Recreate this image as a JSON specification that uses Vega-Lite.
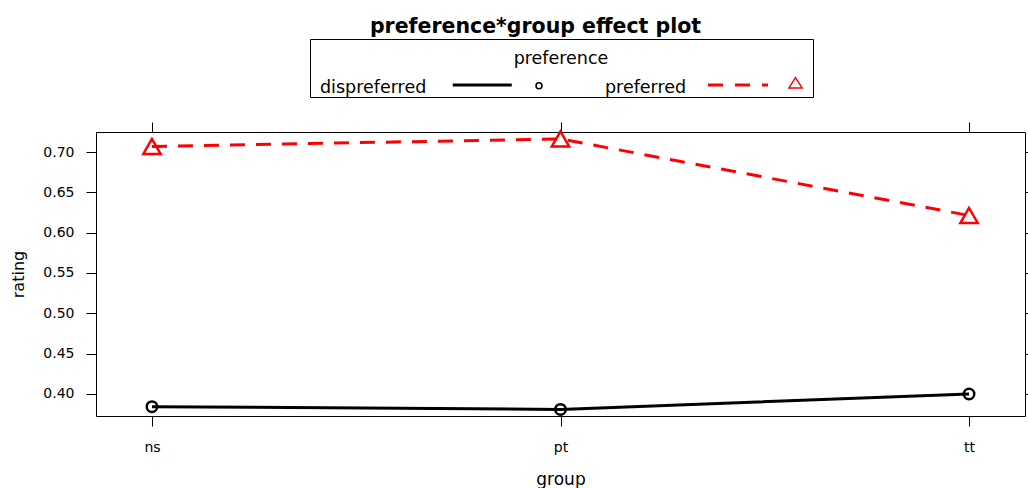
{
  "$schema": "https://vega.github.io/schema/vega-lite/v6.json",
  "width": 929,
  "height": 284,
  "autosize": {"type": "none"},
  "padding": {"left": 96, "top": 132, "right": 3, "bottom": 72},
  "background": "white",
  "title": {
    "text": "preference*group effect plot",
    "font": "DejaVu Sans",
    "fontSize": 20.5,
    "fontWeight": "bold",
    "color": "black",
    "anchor": "middle",
    "dx": -25,
    "baseline": "alphabetic",
    "offset": -15
  },
  "config": {
    "view": {"stroke": "black", "strokeWidth": 1},
    "axis": {
      "grid": false,
      "domain": false,
      "tickColor": "black",
      "tickWidth": 1,
      "tickSize": 10,
      "labelColor": "black",
      "titleColor": "black",
      "labelFont": "DejaVu Sans",
      "titleFont": "DejaVu Sans",
      "titleFontWeight": "normal"
    }
  },
  "data": {
    "values": [
      {"group": "ns", "preference": "dispreferred", "rating": 0.3843},
      {"group": "pt", "preference": "dispreferred", "rating": 0.3808},
      {"group": "tt", "preference": "dispreferred", "rating": 0.4000},
      {"group": "ns", "preference": "preferred", "rating": 0.7069},
      {"group": "pt", "preference": "preferred", "rating": 0.7162},
      {"group": "tt", "preference": "preferred", "rating": 0.6213}
    ]
  },
  "encoding": {
    "x": {
      "field": "group",
      "type": "nominal",
      "sort": ["ns", "pt", "tt"],
      "scale": {"type": "point", "padding": 0.137},
      "axis": null
    },
    "y": {
      "field": "rating",
      "type": "quantitative",
      "scale": {"domain": [0.3727, 0.7248], "nice": false, "zero": false},
      "axis": null
    },
    "color": {
      "field": "preference",
      "type": "nominal",
      "scale": {"domain": ["dispreferred", "preferred"], "range": ["black", "red"]},
      "legend": {
        "orient": "none",
        "legendX": 214,
        "legendY": -93,
        "direction": "horizontal",
        "title": ["", "preference"],
        "titleLineHeight": 11,
        "titleFont": "DejaVu Sans",
        "titleFontSize": 17.5,
        "titleFontWeight": "normal",
        "titleColor": "black",
        "titleAnchor": "middle",
        "titleAlign": "center",
        "titlePadding": 11,
        "labelFont": "DejaVu Sans",
        "labelFontSize": 17.5,
        "labelColor": "black",
        "labelOffset": -7.5,
        "labelLimit": 0,
        "symbolSize": 4,
        "symbolStrokeWidth": 1.5,
        "columnPadding": 50,
        "strokeColor": "black",
        "fillColor": "white",
        "padding": 0,
        "encode": {
          "symbols": {
            "update": {
              "shape": {"signal": "datum.value === 'dispreferred' ? 'M134.75,-3.35L192.25,-3.35L192.25,-1.85L134.75,-1.85Z M223.25,-2A3,3 0 1,1 217.25,-2A3,3 0 1,1 223.25,-2Z' : 'M105,-3.35L118.5,-3.35L118.5,-1.85L105,-1.85Z M132,-3.35L145.5,-3.35L145.5,-1.85L132,-1.85Z M159,-3.35L163.5,-3.35L163.5,-1.85L159,-1.85Z M191.75,-10L198.3,0.3L185.2,0.3Z M205.5,0'"},
              "fill": {"value": "transparent"},
              "stroke": {"signal": "datum.value === 'dispreferred' ? 'black' : 'red'"},
              "strokeWidth": {"value": 1.5},
              "size": {"value": 4},
              "opacity": {"value": 1}
            }
          }
        }
      }
    }
  },
  "layer": [
    {
      "transform": [{"filter": "datum.preference === 'dispreferred'"}],
      "mark": {"type": "line", "strokeWidth": 3},
      "encoding": {
        "x": {
          "field": "group",
          "type": "nominal",
          "sort": ["ns", "pt", "tt"],
          "scale": {"type": "point", "padding": 0.137},
          "axis": {
            "orient": "bottom",
            "title": "group",
            "titleFontSize": 17,
            "titlePadding": 17,
            "labelFontSize": 14,
            "labelAngle": 0,
            "labelPadding": 14
          }
        },
        "y": {
          "field": "rating",
          "type": "quantitative",
          "scale": {"domain": [0.3727, 0.7248], "nice": false, "zero": false},
          "axis": {
            "orient": "left",
            "title": "rating",
            "titleFontSize": 16,
            "titlePadding": 16,
            "values": [0.4, 0.45, 0.5, 0.55, 0.6, 0.65, 0.7],
            "format": ".2f",
            "labelFontSize": 14,
            "labelPadding": 12
          }
        }
      }
    },
    {
      "transform": [{"filter": "datum.preference === 'preferred'"}],
      "mark": {"type": "line", "strokeWidth": 3, "strokeDash": [15, 11]}
    },
    {
      "transform": [{"filter": "datum.preference === 'dispreferred'"}],
      "mark": {"type": "point", "shape": "circle", "size": 110, "filled": false, "strokeWidth": 2.5, "opacity": 1},
      "encoding": {
        "x": {
          "field": "group",
          "type": "nominal",
          "sort": ["ns", "pt", "tt"],
          "scale": {"type": "point", "padding": 0.137},
          "axis": {"orient": "top", "labels": false, "title": null}
        },
        "y": {
          "field": "rating",
          "type": "quantitative",
          "scale": {"domain": [0.3727, 0.7248], "nice": false, "zero": false},
          "axis": {
            "orient": "right",
            "labels": false,
            "title": null,
            "values": [0.4, 0.45, 0.5, 0.55, 0.6, 0.65, 0.7]
          }
        }
      }
    },
    {
      "transform": [{"filter": "datum.preference === 'preferred'"}],
      "mark": {"type": "point", "shape": "triangle-up", "size": 300, "filled": false, "strokeWidth": 2.5, "opacity": 1}
    }
  ],
  "resolve": {"axis": {"x": "independent", "y": "independent"}}
}
